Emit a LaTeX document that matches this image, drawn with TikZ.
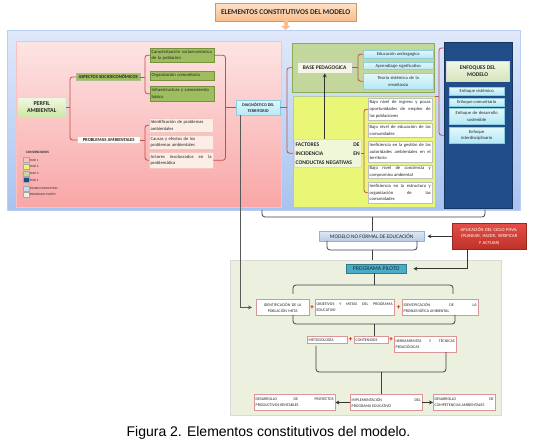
\documentclass[tikz,border=0pt]{standalone}
\usepackage{fontspec}
\setmainfont{Carlito}
\newfontfamily\capfont{Liberation Sans}
\usetikzlibrary{arrows.meta,shadows}
\hyphenpenalty=10000
\tolerance=10000
\definecolor{pinkT}{RGB}{253,228,228}
\definecolor{pinkB}{RGB}{249,166,166}
\definecolor{bluT}{RGB}{224,233,250}
\definecolor{bluB}{RGB}{168,195,240}
\definecolor{olv}{RGB}{195,214,155}
\definecolor{olvD}{RGB}{140,170,80}
\definecolor{ylw}{RGB}{234,246,118}
\definecolor{navy}{RGB}{32,77,135}
\definecolor{itgrn}{RGB}{158,189,94}
\definecolor{itgrnD}{RGB}{118,146,60}
\definecolor{cyT}{RGB}{226,247,252}
\definecolor{cyB}{RGB}{180,233,247}
\definecolor{cybd}{RGB}{140,205,222}
\definecolor{brkc}{RGB}{192,80,77}
\definecolor{pch}{RGB}{252,237,230}
\definecolor{pchbd}{RGB}{240,200,190}
\definecolor{ppg}{RGB}{235,241,222}
\definecolor{prgc}{RGB}{75,172,198}
\definecolor{redT}{RGB}{228,78,70}
\definecolor{redB}{RGB}{190,50,40}
\definecolor{rowbd}{RGB}{217,150,148}
\definecolor{mdlT}{RGB}{222,232,244}
\definecolor{mdlB}{RGB}{184,204,228}
\definecolor{mdlbd}{RGB}{149,179,215}
\definecolor{orT}{RGB}{253,226,200}
\definecolor{orB}{RGB}{250,190,140}
\definecolor{lgT}{RGB}{240,248,226}
\definecolor{lgB}{RGB}{206,230,164}

\begin{document}
\begin{tikzpicture}[x=1pt,y=-1pt,
  every node/.style={inner xsep=1.5pt,inner ysep=0.5pt,anchor=north west,text=black!85,
    font=\fontsize{4.6}{6.6}\selectfont},
  sec/.style={inner sep=0pt},
  grn/.style={draw=itgrnD,fill=itgrn,align=left},
  cyn/.style={draw=cybd,top color=cyT,bottom color=cyB,align=center},
  wht/.style={draw=black!25,fill=white,align=justify},
  pch/.style={draw=pchbd,fill=pch,align=justify},
  hdr/.style={font=\bfseries\fontsize{4.6}{5.6}\selectfont,align=center},
  shd/.style={drop shadow={shadow xshift=0.8pt,shadow yshift=-0.8pt,opacity=0.3}},
  row/.style={draw=rowbd,fill=white,align=justify,font=\fontsize{4}{6}\selectfont,minimum height=15.5pt},
  brk/.style={draw=brkc,line width=0.8pt,rounded corners=2.5pt},
  blk/.style={draw=black!75,line width=0.8pt,rounded corners=3pt},
  arr/.style={draw=black!80,line width=0.9pt,-{Stealth[length=4pt,width=4pt]}},
  pls/.style={anchor=center,inner sep=0pt,text=red!80!black,font=\bfseries\fontsize{7}{7}\selectfont}]
\useasboundingbox (0,0) rectangle (536,446);

% fases
\node[sec,draw=bluB!80,top color=bluT,bottom color=bluB,minimum width=513pt,minimum height=180pt] (mdl) at (7,30) {};
\node[sec,draw=pinkB!70,top color=pinkT,bottom color=pinkB,minimum width=265pt,minimum height=166pt] (fs1) at (16,41) {};
\node[sec,draw=olvD,fill=olv,minimum width=142pt,minimum height=49pt] (fs3) at (292,43) {};
\node[sec,draw=olvD!60,fill=ylw,minimum width=142pt,minimum height=111pt] (fs2) at (293,96) {};
\node[sec,draw=navy!70!black,fill=navy,minimum width=68pt,minimum height=166pt] (fs4) at (444,42) {};
\node[sec,draw=black!15,fill=ppg,minimum width=271pt,minimum height=155pt] (ppa) at (230,260) {};

\node[draw=orB!80!black,top color=orT,bottom color=orB,minimum width=141pt,minimum height=18pt,
  font=\bfseries\fontsize{7.3}{8}\selectfont] (ttl) at (215,3) {ELEMENTOS CONSTITUTIVOS DEL MODELO};
\draw[line width=4pt,draw=orB,-{Triangle[length=4pt,width=9pt]}] (ttl.south) -- (ttl.south |- mdl.north);

% fase 1
\node[hdr,shd,draw=black!15,top color=lgT,bottom color=lgB,minimum width=49pt,minimum height=20pt,
  font=\bfseries\fontsize{6}{7.4}\selectfont] (per) at (17,97) {PERFIL\\AMBIENTAL};
\node[hdr,draw=itgrnD!60,fill=itgrn,minimum width=64pt,minimum height=7.5pt] (asp) at (76,73) {ASPECTOS SOCIOECONÓMICOS};
\node[hdr,draw=pchbd,fill=white!70!pch,minimum width=63pt,minimum height=7.5pt] (prob) at (77,136) {PROBLEMAS AMBIENTALES};
\node[grn,text width=61pt,minimum height=14pt] (car) at (150,48) {Caracterización socioeconómica\\de la población};
\node[grn,text width=61pt,minimum height=9pt] (org) at (150,71) {Organización comunitaria};
\node[grn,text width=61pt,minimum height=15pt] (inf) at (150,86) {Infraestructura y saneamiento\\básico};
\node[pch,text width=61pt,minimum height=14pt,align=left] (ide) at (149,118) {Identificación de problemas\\ambientales};
\node[pch,text width=61pt,minimum height=14pt,align=left] (cau) at (149,135) {Causas y efectos de los\\problemas ambientales};
\node[pch,text width=61pt,minimum height=16pt] (act) at (149,152) {Actores involucrados en la\linebreak problemática};
\node[hdr,cyn,minimum width=44pt,minimum height=15pt,font=\bfseries\fontsize{4.2}{5.4}\selectfont] (diag) at (236,100) {DIAGNÓSTICO DEL\\TERRITORIO};

\node[font=\bfseries\fontsize{3.4}{3.4}\selectfont,inner sep=0pt] (conv) at (26,151) {CONVENCIONES};
\foreach \yy/\cc/\lab [count=\i] in {160/pinkT!40!pinkB/FASE 1,166.7/ylw/FASE 2,173.3/olv/FASE 3,180/navy/FASE 4,
    188.3/mdlT!50!mdlB/MODELO EDUCATIVO,194.3/ppg/PROGRAMA PILOTO}
  {\node[anchor=west,draw=black!35,fill=\cc,minimum width=6pt,minimum height=5pt,inner sep=0pt] (lg\i) at (22.5,\yy) {};
   \node[anchor=west,inner sep=0.8pt,font=\fontsize{3.2}{3.2}\selectfont] (lt\i) at (lg\i.east) {\lab};}

% fases 2 y 3
\node[hdr,shd,draw=black!20,fill={rgb,255:red,244;green,245;blue,228},minimum width=55pt,minimum height=11pt,
  font=\bfseries\fontsize{5.5}{6.5}\selectfont] (base) at (297,62) {BASE PEDAGOGICA};
\node[cyn,minimum width=70pt,minimum height=8pt] (edu) at (363,50) {Educación andragogica};
\node[cyn,minimum width=70pt,minimum height=7.5pt] (apr) at (363,62) {Aprendizaje significativo};
\node[cyn,text width=67pt,minimum height=16pt] (teo) at (363,73) {Teoría sistémica de la\\enseñanza};
\node[shd,draw=black!15,fill={rgb,255:red,240;green,247;blue,216},text width=64pt,minimum height=28pt,align=justify,
  font=\bfseries\fontsize{5.6}{9}\selectfont] (fac) at (294,139) {FACTORES DE\linebreak INCIDENCIA EN\linebreak CONDUCTAS NEGATIVAS};
\node[wht,text width=61pt,minimum height=22pt] (f1) at (368,98) {Bajo nivel de ingreso y pocas\linebreak oportunidades de empleo de\linebreak las poblaciones};
\node[wht,text width=61pt,minimum height=14pt] (f2) at (368,123) {Bajo nivel de educación de las\linebreak comunidades};
\node[wht,text width=61pt,minimum height=21pt] (f3) at (368,141) {Ineficiencia en la gestión de las\linebreak autoridades ambientales en el\linebreak territorio};
\node[wht,text width=61pt,minimum height=13.5pt] (f4) at (368,165) {Bajo nivel de conciencia y\linebreak compromiso ambiental};
\node[wht,text width=61pt,minimum height=21pt] (f5) at (368,182) {Ineficiencia en la estructura y\linebreak organización de las\linebreak comunidades};

% fase 4
\node[hdr,shd,draw=black!15,top color=lgT,bottom color={rgb,255:red,215;green,228;blue,189},minimum width=63pt,minimum height=20pt,
  font=\bfseries\fontsize{5.6}{7.2}\selectfont] (enf) at (446,61) {ENFOQUES DEL\\MODELO};
\node[cyn,minimum width=55pt,minimum height=8pt] (e1) at (449,87) {Enfoque sistémico};
\node[cyn,minimum width=55pt,minimum height=8pt] (e2) at (449,98) {Enfoque comunitario};
\node[cyn,text width=52pt,minimum height=16pt] (e3) at (449,108) {Enfoque de desarrollo\\sostenible};
\node[cyn,text width=52pt,minimum height=16pt] (e4) at (449,127) {Enfoque\\interdisciplinario};

% llaves de la parte superior
\draw[brk] (asp.west) -- ++(-6,0) coordinate (sp1) |- (prob.west);
\draw[brk] (per.east) -- (per.east -| sp1);
\draw[brk] (car.west) -- ++(-5,0) coordinate (sp2) |- (inf.west);
\draw[brk] (asp.east) -- (asp.east -| sp2);
\draw[brk] (ide.west) -- ++(-4,0) coordinate (sp3) |- (act.west);
\draw[brk] (prob.east) -- (prob.east -| sp3);
\draw[brk] (car.east) -- ++(11,0) coordinate (sp4) |- (act.east);
\draw[brk] (sp4 |- diag.west) -- (diag.west);
\draw[brk] (fs3.west |- base.west) -- ++(-5,0) coordinate (sp5) |- (fs2.west |- fac.west);
\draw[brk] (diag.east) -- (diag.east -| sp5);
\draw[brk] (edu.west) -- ++(-5,0) coordinate (sp6) |- (teo.west);
\draw[brk] (base.east) -- (base.east -| sp6);
\draw[brk] (f1.west) -- ++(-4,0) coordinate (sp7) |- (f5.west);
\draw[brk] (fac.east) -- (fac.east -| sp7);
\draw[brk] ([yshift=-6pt]fs4.north west) -- ++(-5,0) coordinate (sp8) |- (fs4.west |- e4.west);
\draw[brk] (fs2.north east) -- (fs2.north east -| sp8);
\draw[arr] (base.south |- fac.north) -- (base.south);

% modelo y programa piloto
\node[draw=mdlbd,top color=mdlT,bottom color=mdlB,minimum width=105pt,minimum height=10pt,
  font=\fontsize{5.4}{6}\selectfont] (mod) at (319,231) {MODELO NO FORMAL DE EDUCACIÓN};
\node[draw=redB!80!black,top color=redT,bottom color=redB,text=white,text width=71pt,minimum height=26pt,align=center,
  font=\fontsize{4.6}{6.4}\selectfont] (phva) at (452,223) {APLICACIÓN DEL CICLO PHVA:\\(PLANEAR, HACER, VERIFICAR\\Y ACTUAR)};
\node[draw=prgc!70!black,fill=prgc,minimum width=60pt,minimum height=9pt,text={rgb,255:red,20;green,45;blue,70},
  font=\fontsize{5.8}{6.5}\selectfont] (prog) at (346,264) {PROGRAMA PILOTO};
\node[row,text width=50pt,align=center] (r1a) at (256,299.5) {IDENTIFICACIÓN DE LA\\POBLACIÓN META};
\node[row,text width=76pt] (r1b) at (315,299.5) {OBJETIVOS Y METAS DEL PROGRAMA\linebreak EDUCATIVO};
\node[row,text width=73pt] (r1c) at (402,299.5) {IDENTIFICACIÓN DE LA\linebreak PROBLEMÁTICA AMBIENTAL};
\node[row,text width=37pt,minimum height=7.5pt] (r2a) at (307,336) {METODOLOGÍA};
\node[row,text width=31pt,minimum height=7.5pt] (r2b) at (354,336) {CONTENIDOS};
\node[row,text width=59pt,minimum height=16pt] (r2c) at (394,336) {HERRAMIENTAS Y TÉCNICAS\linebreak PEDAGÓGICAS};
\node[row,text width=78pt,minimum height=16.5pt] (r3a) at (254,394) {DESARROLLO DE PROYECTOS\linebreak PRODUCTIVOS RENTABLES};
\node[row,text width=69pt,minimum height=16.5pt] (r3b) at (350,394) {IMPLEMENTACIÓN DEL\linebreak PROGRAMA EDUCATIVO};
\node[row,text width=59pt,minimum height=16.5pt] (r3c) at (433,394) {DESARROLLO DE\linebreak COMPETENCIAS AMBIENTALES};
\foreach \px/\py [count=\i] in {312/307.5,398.5/307.5,350.5/340,391/340}
  {\node[pls] (pl\i) at (\px,\py) {+};}

% llaves y flechas de la parte inferior
\coordinate (u1) at (262,210); \coordinate (u2) at (485,210); \coordinate (u3) at (372,217);
\draw[blk] (u1) |- (u3) -| (u2);
\draw[blk] (u3) -- (u3 |- mod.north);
\coordinate (v1) at (327,241); \coordinate (v2) at (417,241); \coordinate (v3) at (372,250);
\draw[blk] (v1) |- (v3) -| (v2);
\draw[blk] (v3) -- (v3 |- ppa.north);
\draw[arr,shorten >=3pt] (phva.west |- mod.east) -- (mod.east);
\draw[arr,shorten >=7pt] ([xshift=-22pt]phva.south) |- (prog.east);
\coordinate (w1) at (293,294); \coordinate (w2) at (453,294); \coordinate (w3) at (374,285);
\draw[blk] (w1) |- (w3) -| (w2);
\draw[blk] (w3) -- (w3 |- prog.south);
\coordinate (x1) at (293,315); \coordinate (x2) at (455,315); \coordinate (x3) at (374,324);
\draw[blk] (x1) |- (x3) -| (x2);
\draw[blk] (x3) -- (x3 |- r2b.north);
\coordinate (y1) at (316,346); \coordinate (y2) at (446,352); \coordinate (y3) at (381,372);
\draw[blk] (y1) |- (y3) -| (y2);
\draw[blk] (y3) -- (y3 |- r3b.north);
\draw[arr] (r3b.west) -- (r3a.east);
\draw[arr] (r3b.east) -- (r3c.west);
\draw[arr,draw=black!65,line width=1.1pt,shorten >=4pt] ([xshift=-18pt]diag.south) |- (r1a.west);

\node[anchor=center,text=black,font=\capfont\fontsize{14}{16}\selectfont] (cap) at (268.5,433) {Figura 2. Elementos constitutivos del modelo.};
\end{tikzpicture}
\end{document}
